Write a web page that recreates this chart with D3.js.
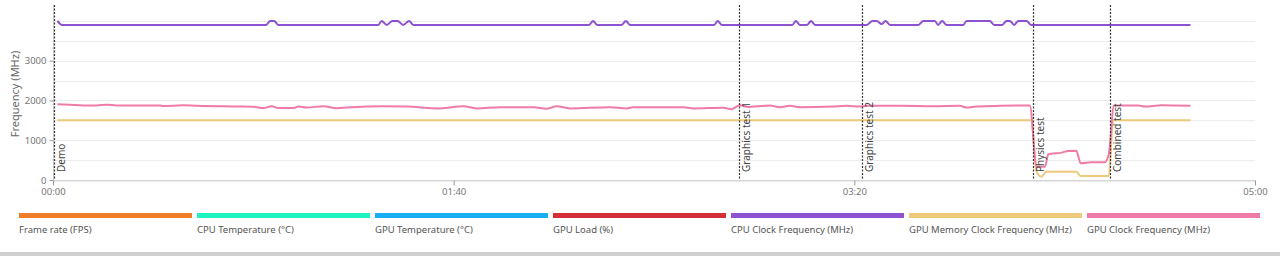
<!DOCTYPE html>
<html>
<head>
<meta charset="utf-8">
<script src="https://cdn.jsdelivr.net/npm/d3@7"></script>
<style>
  body { margin: 0; background: #fff; }
  svg { display: block; font-family: 'Noto Sans', 'Open Sans', sans-serif; }
</style>
</head>
<body>
<div id="chart"></div>
<script>
// time in seconds, values in MHz
var cpu_time = [1.1, 2.2, 53.2, 54.2, 55.2, 56.2, 81.2, 82.0, 83.3, 84.7, 86.0, 87.4, 88.9, 89.9,
    133.8, 134.8, 135.8, 141.9, 143.0, 144.0, 165.0, 165.9, 166.9, 184.5, 185.4, 186.4,
    188.2, 189.2, 190.2, 203.1, 204.5, 205.6, 206.8, 207.8, 208.9, 216.0, 217.2, 220.1,
    220.9, 221.9, 223.0, 227.2, 228.0, 233.8, 234.9, 236.9, 238.0, 238.8, 239.9, 240.9,
    243.0, 244.1, 283.9];
var cpu_clock = [4000, 3900, 3900, 4000, 4000, 3900, 3900, 4000, 3900, 4000, 4000, 3900, 4000, 3900,
    3900, 4000, 3900, 3900, 4000, 3900, 3900, 4000, 3900, 3900, 4000, 3900,
    3900, 4000, 3900, 3900, 4000, 4000, 3920, 4000, 3900, 3900, 4000, 4000,
    3900, 4000, 3900, 3900, 4000, 4000, 3900, 3900, 4000, 4000, 3900, 4000,
    4000, 3900, 3900];

var mem_time = [1.1, 244.1, 245.5, 246.7, 247.9, 255.4, 256.5, 263.5, 264.6, 283.9];
var mem_clock = [1500, 1500, 210, 85, 210, 210, 100, 100, 1500, 1500];

var gpu_time = [1.1, 4.2, 7.6, 10.9, 13.4, 15.9, 26.7, 27.5, 32.5, 35.9, 45.9, 50.0, 52.5, 54.6,
    56.2, 60.0, 61.2, 63.3, 67.5, 70.8, 73.3, 82.4, 88.3, 96.6, 102.4, 105.7, 111.6,
    119.9, 123.2, 125.7, 129.0, 139.0, 143.2, 144.8, 157.3, 159.8, 167.3, 169.4, 171.4,
    173.5, 174.8, 178.9, 181.4, 183.9, 186.4, 194.7, 198.1, 201.4, 203.1, 211.4, 219.7,
    226.4, 228.0, 230.5, 236.3, 243.8, 245.5, 247.6, 248.4, 251.7, 253.4, 255.4, 256.5,
    259.2, 262.5, 263.5, 264.8, 270.9, 272.5, 276.7, 283.9];
var gpu_clock = [1905, 1890, 1875, 1875, 1895, 1875, 1875, 1858, 1880, 1865, 1848, 1840, 1808, 1855,
    1808, 1808, 1847, 1822, 1855, 1805, 1822, 1855, 1845, 1800, 1855, 1800, 1830,
    1830, 1790, 1855, 1800, 1830, 1800, 1830, 1830, 1800, 1815, 1782, 1880,
    1838, 1847, 1872, 1830, 1864, 1830, 1847, 1864, 1847, 1864, 1864, 1855,
    1864, 1822, 1847, 1864, 1872, 336, 336, 647, 688, 730, 738, 420,
    445, 445, 647, 1872, 1872, 1847, 1880, 1864];

var markers = ['Demo', 'Graphics test 1', 'Graphics test 2', 'Physics test', 'Combined test'];
var marker_time = [0.2, 171.2, 201.9, 244.6, 263.8];

var x_ticks = [0, 100, 200, 300];
var x_tick_labels = ['00:00', '01:40', '03:20', '05:00'];
var y_grid = [0, 500, 1000, 1500, 2000, 2500, 3000, 3500, 4000];
var y_ticks = [0, 1000, 2000, 3000];

var legend_names = ['Frame rate (FPS)', 'CPU Temperature (°C)', 'GPU Temperature (°C)', 'GPU Load (%)',
    'CPU Clock Frequency (MHz)', 'GPU Memory Clock Frequency (MHz)', 'GPU Clock Frequency (MHz)'];
var legend_colors = ['#f27d27', '#1ff3c1', '#17aef3', '#d5303a', '#8d52d2', '#edc97b', '#ee7ba8'];

var chart_width = 1280;
var chart_height = 256;

var svg = d3.select('#chart')
    .append('svg')
    .attr('width', chart_width)
    .attr('height', chart_height);

var x_scale = d3.scaleLinear()
    .domain([0, 300])
    .range([53, 1255]);

var y_scale = d3.scaleLinear()
    .domain([0, 4400])
    .range([180, 5]);

// grid
svg.selectAll('.grid')
    .data(y_grid)
    .enter()
    .append('line')
    .attr('x1', x_scale(0))
    .attr('x2', x_scale(300))
    .attr('y1', function(d) { return Math.round(y_scale(d)) + 0.5; })
    .attr('y2', function(d) { return Math.round(y_scale(d)) + 0.5; })
    .attr('stroke', function(d) { return d === 0 ? '#d6d6d6' : '#ececec'; })
    .attr('stroke-width', 1);

// y axis
var y_axis = d3.axisLeft(y_scale)
    .tickValues(y_ticks)
    .tickFormat(d3.format('d'))
    .tickSize(4)
    .tickPadding(3);
var gy = svg.append('g')
    .attr('transform', 'translate(' + 53.5 + ',0)')
    .call(y_axis);
gy.select('.domain').attr('stroke', '#cfcfcf').attr('d', 'M0,5V180');
gy.selectAll('.tick line').attr('stroke', '#999');
gy.selectAll('.tick text').attr('fill', '#777').attr('font-size', 9.5)
    .attr('font-family', "'Noto Sans', sans-serif");

// x axis
var x_axis = d3.axisBottom(x_scale)
    .tickValues(x_ticks)
    .tickFormat(function(d, i) { return x_tick_labels[i]; })
    .tickSize(5)
    .tickSizeOuter(0)
    .tickPadding(3);
var gx = svg.append('g')
    .attr('transform', 'translate(0,' + 180.5 + ')')
    .call(x_axis);
gx.select('.domain').attr('stroke', '#d6d6d6');
gx.selectAll('.tick line').attr('stroke', '#999');
gx.selectAll('.tick text').attr('fill', '#777').attr('font-size', 9.5)
    .attr('font-family', "'Noto Sans', sans-serif");

svg.append('text')
    .text('Frequency (MHz)')
    .attr('transform', 'translate(19,94) rotate(-90)')
    .attr('text-anchor', 'middle')
    .attr('font-size', 11)
    .attr('fill', '#666');

// series
var line = d3.line()
    .x(function(d) { return x_scale(d[0]); })
    .y(function(d) { return y_scale(d[1]); })
    .curve(d3.curveMonotoneX);

var series = [
    { t: mem_time, v: mem_clock, color: legend_colors[5] },
    { t: gpu_time, v: gpu_clock, color: legend_colors[6] },
    { t: cpu_time, v: cpu_clock, color: legend_colors[4] }
];

svg.selectAll('.series')
    .data(series)
    .enter()
    .append('path')
    .attr('d', function(s) { return line(d3.zip(s.t, s.v)); })
    .attr('fill', 'none')
    .attr('stroke', function(s) { return s.color; })
    .attr('stroke-width', 2)
    .attr('stroke-linejoin', 'round');

// markers
var mk = svg.selectAll('.marker')
    .data(markers)
    .enter()
    .append('g');
mk.append('line')
    .attr('x1', function(d, i) { return Math.round(x_scale(marker_time[i])) + 0.5; })
    .attr('x2', function(d, i) { return Math.round(x_scale(marker_time[i])) + 0.5; })
    .attr('y1', 5)
    .attr('y2', 180)
    .attr('stroke', '#333')
    .attr('stroke-width', 1.2)
    .attr('stroke-dasharray', '2,1.5');
mk.append('text')
    .text(function(d) { return d; })
    .attr('transform', function(d, i) {
        return 'translate(' + (x_scale(marker_time[i]) + 11) + ',172) rotate(-90)';
    })
    .attr('font-size', 10)
    .attr('fill', '#444');

// legend
var lg = svg.selectAll('.legend')
    .data(legend_names)
    .enter()
    .append('g')
    .attr('transform', function(d, i) { return 'translate(' + (19 + i * 178) + ',0)'; });
lg.append('rect')
    .attr('x', 0)
    .attr('y', 213)
    .attr('width', 173)
    .attr('height', 5)
    .attr('fill', function(d, i) { return legend_colors[i]; });
lg.append('text')
    .text(function(d) { return d; })
    .attr('x', 0)
    .attr('y', 233)
    .attr('font-size', 9.5)
    .attr('fill', '#555');

svg.append('rect')
    .attr('x', 0)
    .attr('y', 252)
    .attr('width', chart_width)
    .attr('height', 4)
    .attr('fill', '#d0d0d0');
</script>
</body>
</html>
